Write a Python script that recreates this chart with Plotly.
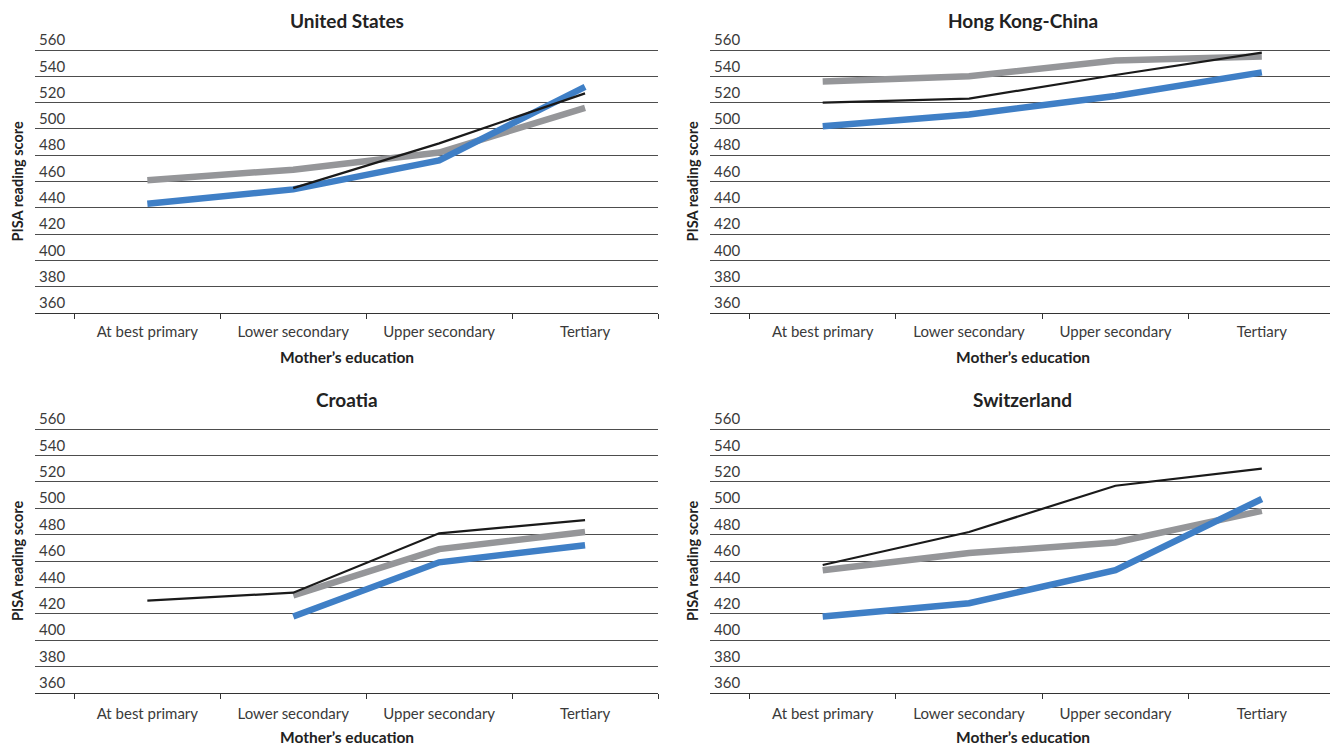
import plotly.graph_objects as go

categories = ["At best primary", "Lower secondary", "Upper secondary", "Tertiary"]
y_ticks = [360, 380, 400, 420, 440, 460, 480, 500, 520, 540, 560]
countries = ["United States", "Hong Kong-China", "Croatia", "Switzerland"]

# black thin line
native = {
    "United States": [None, 455, 489, 527],
    "Hong Kong-China": [520, 523, 541, 558],
    "Croatia": [430, 436, 481, 491],
    "Switzerland": [457, 482, 517, 530],
}
# grey thick line
second_gen = {
    "United States": [461, 469, 482, 516],
    "Hong Kong-China": [536, 540, 552, 555],
    "Croatia": [None, 434, 469, 482],
    "Switzerland": [453, 466, 474, 498],
}
# blue thick line
first_gen = {
    "United States": [443, 454, 476, 532],
    "Hong Kong-China": [502, 511, 525, 543],
    "Croatia": [None, 418, 459, 472],
    "Switzerland": [418, 428, 453, 507],
}

OFF = 8  # page body margin
W, H = 1338 - OFF, 748 - OFF
FONT = "Lato"
TXT = "#3a3a3a"

# panel pixel boxes in window coords: (left, right, pixel of 560, pixel of 360)
boxes = [(35, 658, 50, 313), (710, 1335, 50, 313), (35, 658, 429, 693), (710, 1335, 429, 693)]
YMIN, YMAX = 360, 582
LABEL_LIFT = 10  # px the tick labels sit above their gridline

fig = go.Figure()
layout = {}
annotations = []
for i, c in enumerate(countries):
    n = "" if i == 0 else str(i + 1)
    xa, ya = "x" + n, "y" + n
    lab = str(i + 5)
    l, r, t, b = [v - OFF for v in boxes[i]]
    ppu = (b - t) / 200.0
    t_dom = b - (YMAX - YMIN) * ppu
    lift = LABEL_LIFT / ppu
    for series, color, width in [(second_gen, "#959699", 6.5), (first_gen, "#3f7fc6", 6.5), (native, "#1a1a1a", 2.2)]:
        fig.add_trace(go.Scatter(
            x=categories, y=series[c], mode="lines", xaxis=xa, yaxis=ya,
            line=dict(color=color, width=width), showlegend=False, connectgaps=False,
            hoverinfo="x+y"))
    layout["xaxis" + n] = dict(
        domain=[l / W, r / W], anchor=ya, type="category",
        categoryorder="array", categoryarray=categories,
        range=[-0.77, 3.5], tickson="boundaries", ticks="outside", ticklen=5,
        tickcolor="#333", showline=True, linecolor="#333", linewidth=1.2,
        showgrid=False, zeroline=False, automargin=False,
        ticklabelstandoff=5 if i < 2 else 7,
        tickfont=dict(family=FONT, size=15, color=TXT),
    )
    dom = [1 - b / H, 1 - t_dom / H]
    layout["yaxis" + n] = dict(
        domain=dom, anchor=xa, range=[YMIN, YMAX],
        tickvals=y_ticks, showticklabels=False, ticks="",
        showgrid=True, gridcolor="#4d4d4d", gridwidth=1.1, zeroline=False, showline=False,
        automargin=False,
    )
    layout["yaxis" + lab] = dict(
        overlaying=ya, anchor=xa, side="left", range=[YMIN - lift, YMAX - lift],
        tickvals=y_ticks, ticktext=[str(v) for v in y_ticks],
        ticklabelposition="inside", ticks="", ticklabelstandoff=1,
        showgrid=False, zeroline=False, showline=False, automargin=False,
        tickfont=dict(family=FONT, size=15, color=TXT),
    )
    # empty helper trace so the label axis is active
    fig.add_trace(go.Scatter(x=[categories[0]], y=[None], xaxis=xa, yaxis="y" + lab,
                             mode="lines", showlegend=False, hoverinfo="skip"))
    annotations.append(dict(
        text="<b>" + c + "</b>", x=(l + r) / 2 / W, y=1 - (t - 30) / H, xref="paper", yref="paper",
        showarrow=False, xanchor="center", yanchor="middle",
        font=dict(family=FONT, size=19, color="#222")))
    annotations.append(dict(
        text="<b>PISA reading score</b>", x=(l - 18) / W, y=1 - (t + b) / 2 / H,
        xref="paper", yref="paper", showarrow=False, textangle=-90,
        xanchor="center", yanchor="middle", font=dict(family=FONT, size=14.5, color="#222")))
    annotations.append(dict(
        text="<b>Mother\u2019s education</b>", x=(l + r) / 2 / W, y=1 - (b + 44) / H,
        xref="paper", yref="paper", showarrow=False,
        xanchor="center", yanchor="middle", font=dict(family=FONT, size=15.5, color="#222")))

fig.update_layout(
    width=W, height=H, margin=dict(l=0, r=0, t=0, b=0, autoexpand=False),
    paper_bgcolor="white", plot_bgcolor="white",
    annotations=annotations, **layout)

fig.write_html("out.html")
